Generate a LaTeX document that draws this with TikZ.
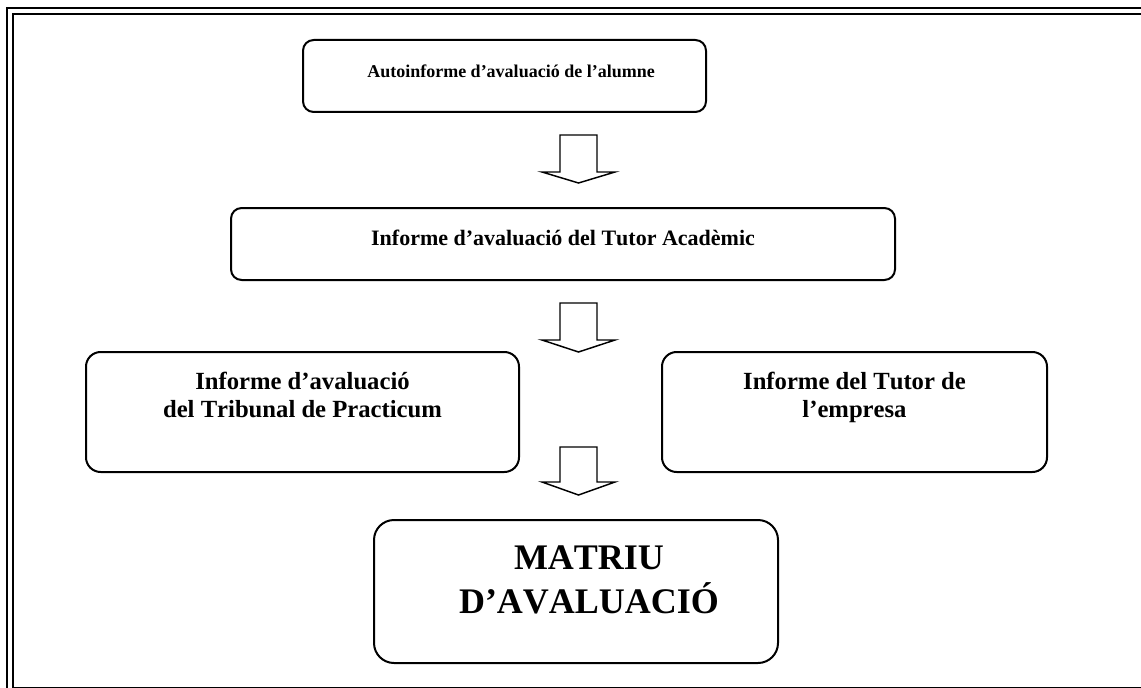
\documentclass[tikz,border=0pt]{standalone}
\usepackage{fontspec}
\setmainfont{Liberation Serif}[Kerning=Off]
\usetikzlibrary{positioning,calc}
\tikzset{box/.style={
            draw,
            line width=1.5pt,
            inner sep=0pt
        },
        txt/.style={
            align=center,
            inner sep=0pt,
            font=\fontsize{18.5}{21}\selectfont\bfseries
        },
        bigtxt/.style={
            align=center,
            inner sep=0pt,
            font=\fontsize{27}{32.5}\selectfont\bfseries
        },
        blockarrow/.style={
            draw,
            line width=1.1pt,
            line join=miter
        },
        frame/.style={
            draw,
            line width=1.6pt
        }
    }

\begin{document}
\begin{tikzpicture}[x=0.75pt,y=-0.75pt]
        \useasboundingbox (0,0) rectangle (1141,688);

        % double frame round the page
        \draw[frame] (7,8) rectangle (1170,700);
        \draw[frame,line width=1.5pt] (12.5,14) rectangle (1155,688);

        \node[box,rounded corners=8pt,minimum width=302.25pt,minimum height=54pt] at (504.5,76) (auto) {};
        \node[txt,font=\fontsize{13.5}{16}\selectfont\bfseries] at (511,71) (autotxt) {Autoinforme d’avaluació de l’alumne};

        \node[box,rounded corners=8pt,minimum width=498pt,minimum height=54pt] at (563,244) (acad) {};
        \node[txt,font=\fontsize{16.5}{20}\selectfont\bfseries] at (563,238) (acadtxt) {Informe d’avaluació del Tutor Acadèmic};

        \node[box,rounded corners=11pt,minimum width=324.75pt,minimum height=90pt] at (302.5,412) (trib) {};
        \node[txt] at (302.5,394.5) (tribtxt) {Informe d’avaluació\\del Tribunal de Practicum};

        \node[box,rounded corners=11pt,minimum width=288.75pt,minimum height=90pt] at (854.5,412) (empr) {};
        \node[txt] at (854.5,397) (emprtxt) {Informe del Tutor de\\l’empresa};

        \node[box,rounded corners=15pt,minimum width=303pt,minimum height=107.25pt] at (576,591.5) (matriu) {};
        \node[bigtxt] at (589,580) (matriutxt) {MATRIU\\D’AVALUACIÓ};

        % block arrows
        \coordinate (a1) at (578.5,135);
        \coordinate (a2) at (578.5,303);
        \coordinate (a3) at (578.5,447);
        \draw[blockarrow] (a1) ++(-18.5,0) -- ++(0,37) -- ++(-18,0) -- ++(36.5,11) -- ++(36.5,-11) -- ++(-18,0) -- ++(0,-37) -- cycle;
        \draw[blockarrow] (a2) ++(-18.5,0) -- ++(0,37) -- ++(-18,0) -- ++(36.5,12) -- ++(36.5,-12) -- ++(-18,0) -- ++(0,-37) -- cycle;
        \draw[blockarrow] (a3) ++(-18.5,0) -- ++(0,35) -- ++(-18,0) -- ++(36.5,13) -- ++(36.5,-13) -- ++(-18,0) -- ++(0,-35) -- cycle;

    \end{tikzpicture}
\end{document}
